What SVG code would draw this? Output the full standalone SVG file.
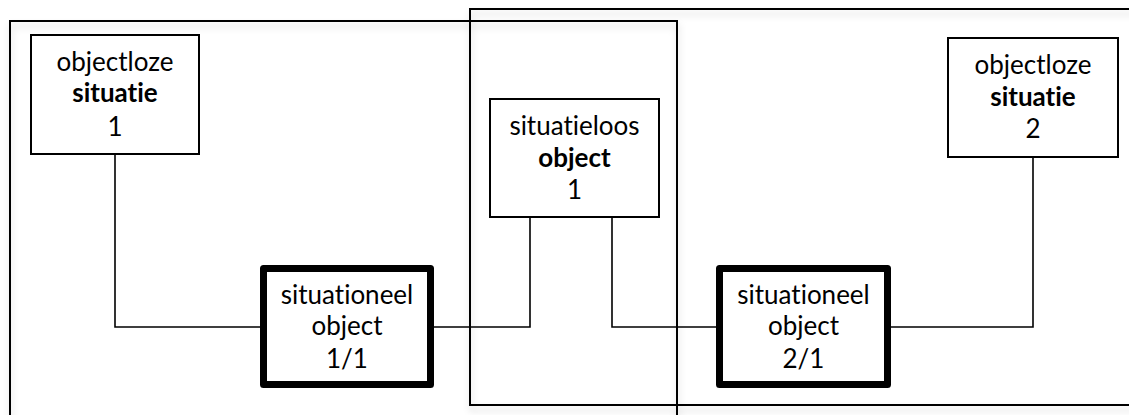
<svg xmlns="http://www.w3.org/2000/svg" width="1129" height="415" viewBox="0 0 1129 415">
<defs>
<filter id="sh" x="-5%" y="-5%" width="110%" height="115%">
<feGaussianBlur in="SourceAlpha" stdDeviation="3.5" result="b"/>
<feOffset in="b" dx="1" dy="5" result="o"/>
<feFlood flood-color="#000" flood-opacity="0.16"/>
<feComposite in2="o" operator="in" result="s"/>
<feMerge><feMergeNode in="s"/><feMergeNode in="SourceGraphic"/></feMerge>
</filter>
</defs>
<style>
.frame{fill:none;stroke:#000;stroke-width:2}
.box{fill:#fff;stroke:#000;stroke-width:2}
.thick{fill:#fff;stroke:#000;stroke-width:7;stroke-linejoin:round}
.con{fill:none;stroke:#000;stroke-width:1.6}
text{font-family:Lato,"Open Sans","Liberation Sans",sans-serif;font-size:26px;fill:#000;text-anchor:middle;font-variant-ligatures:none;font-feature-settings:"liga" 0}
.b{font-weight:bold}
</style>
<rect width="1129" height="415" fill="#fff"/>
<g id="frames" filter="url(#sh)">
<rect class="frame" x="10" y="21" width="667" height="420"/>
<rect class="frame" x="470" y="9" width="680" height="396"/>
</g>
<g id="connectors">
<polyline class="con" points="115,154 115,327 260,327"/>
<polyline class="con" points="434,327 530,327 530,217"/>
<polyline class="con" points="612,217 612,327 716,327"/>
<polyline class="con" points="891,327 1033,327 1033,157"/>
</g>
<g id="situatie1">
<rect class="box" x="31" y="35" width="168" height="119"/>
<text x="115" y="71">objectloze</text>
<text x="115" y="102" class="b">situatie</text>
<text x="115" y="136">1</text>
</g>
<g id="object1">
<rect class="box" x="490" y="99" width="169" height="118"/>
<text x="574.5" y="135">situatieloos</text>
<text x="574.5" y="167" class="b">object</text>
<text x="574.5" y="199">1</text>
</g>
<g id="situatie2">
<rect class="box" x="948" y="38" width="170" height="119"/>
<text x="1033" y="74">objectloze</text>
<text x="1033" y="106" class="b">situatie</text>
<text x="1033" y="138">2</text>
</g>
<g id="sitobj11">
<rect class="thick" x="263.5" y="268.5" width="167" height="116"/>
<text x="347" y="304">situationeel</text>
<text x="347" y="335">object</text>
<text x="347" y="368">1/1</text>
</g>
<g id="sitobj21">
<rect class="thick" x="719.5" y="268.5" width="168" height="116"/>
<text x="803.5" y="304">situationeel</text>
<text x="803.5" y="335">object</text>
<text x="803.5" y="368">2/1</text>
</g>
</svg>
